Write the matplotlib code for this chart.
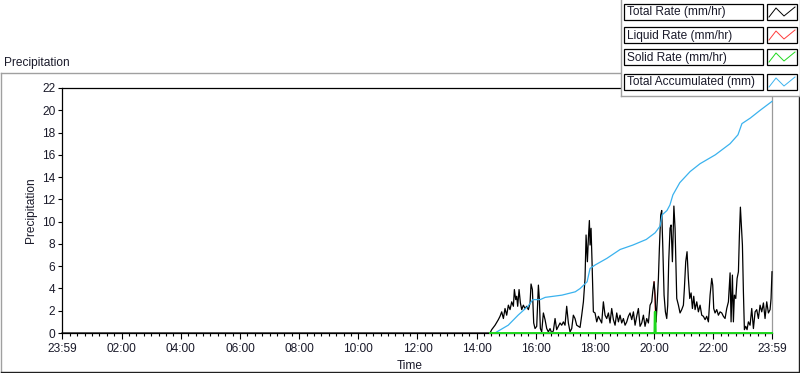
import matplotlib
matplotlib.use("Agg")
import matplotlib.pyplot as plt
from matplotlib.lines import Line2D
from matplotlib.patches import Rectangle

plt.rcParams['font.family'] = ['Liberation Sans', 'DejaVu Sans']

# ---------------- data ----------------
title_text = "Precipitation"
x_label = "Time"
y_label = "Precipitation"
series_names = ["Total Rate (mm/hr)", "Liquid Rate (mm/hr)",
                "Solid Rate (mm/hr)", "Total Accumulated (mm)"]
series_colors = ["#000000", "#ff3c3c", "#1ed81e", "#3ab2ee"]
x_tick_labels = ["23:59", "02:00", "04:00", "06:00", "08:00", "10:00", "12:00",
                 "14:00", "16:00", "18:00", "20:00", "22:00", "23:59"]
y_ticks = [0, 2, 4, 6, 8, 10, 12, 14, 16, 18, 20, 22]

# minutes since 00:00 (23:59 of the previous day = -1)
rate_minutes = [
    -1, 864, 867.1, 870.5, 877.3, 884.0, 887.4, 890.8, 894.2, 897.5, 900.9, 904.3,
    907.7, 911.1, 914.5, 916.5, 919.2, 921.2, 923.2, 926.0, 928.7, 931.4, 934.7,
    938.1, 941.5, 944.9, 948.3, 950.3, 953.0, 955.7, 958.4, 961.8, 965.2, 967.2,
    969.2, 971.9, 975.3, 978.7, 982.1, 985.4, 988.8, 992.2, 995.6, 999.0, 1002.3,
    1005.7, 1009.1, 1012.5, 1015.9, 1019.2, 1022.6, 1026.0, 1029.4, 1032.8, 1036.1,
    1039.5, 1042.9, 1046.3, 1049.7, 1053.1, 1056.5, 1059.8, 1061.9, 1064.6, 1066.6,
    1068.6, 1070.0, 1072.0, 1074.0, 1076.7, 1080.1, 1083.5, 1086.9, 1090.3, 1093.6,
    1097.0, 1100.4, 1103.8, 1107.2, 1110.5, 1113.9, 1117.3, 1120.7, 1124.1, 1127.5,
    1130.8, 1134.2, 1137.6, 1141.0, 1144.4, 1147.7, 1151.1, 1154.5, 1157.9, 1161.3,
    1164.6, 1168.0, 1171.4, 1174.8, 1178.2, 1181.5, 1184.9, 1188.3, 1191.7, 1195.1,
    1197.1, 1199.8, 1201.8, 1203.9, 1206.6, 1208.6, 1210.6, 1213.3, 1215.3, 1217.4,
    1220.1, 1222.8, 1225.5, 1227.5, 1229.5, 1232.2, 1234.3, 1237.0, 1240.0, 1242.4,
    1245.8, 1249.2, 1252.5, 1255.9, 1259.3, 1261.3, 1264.0, 1266.7, 1269.4, 1272.2,
    1274.9, 1277.6, 1280.3, 1283.0, 1286.4, 1289.7, 1293.1, 1296.5, 1299.9, 1303.3,
    1306.6, 1310.0, 1313.4, 1316.8, 1318.8, 1320.8, 1323.5, 1326.9, 1330.3, 1333.7,
    1337.1, 1340.4, 1343.8, 1347.2, 1350.6, 1354.0, 1356.0, 1358.7, 1360.7, 1362.7,
    1365.5, 1368.2, 1370.9, 1372.9, 1374.9, 1376.9, 1379.0, 1381.0, 1383.0, 1385.7,
    1388.4, 1391.1, 1394.5, 1397.9, 1401.3, 1404.7, 1408.0, 1411.4, 1414.8, 1418.2,
    1421.6, 1424.9, 1428.3, 1431.7, 1435.1, 1437.1, 1439.0]
total_rate = [
    0, 0, 0.0, 0.3, 0.7, 1.2, 1.5, 1.9, 1.3, 2.2, 1.6, 2.5,
    2.1, 2.8, 2.4, 3.9, 3.0, 3.3, 2.4, 3.9, 2.7, 2.1, 2.5,
    2.2, 2.4, 2.1, 2.7, 4.4, 3.9, 0.9, 0.4, 0.6, 4.3, 3.0,
    0.4, 0.1, 1.8, 1.2, 0.4, 0.1, 0.4, 0.0, 0.2, 1.3, 0.3,
    0.6, 0.9, 0.7, 1.0, 0.7, 2.4, 0.9, 0.1, 0.4, 1.6,
    1.3, 0.7, 0.6, 0.5, 1.6, 2.8, 4.9, 8.8, 6.4, 8.5,
    10.1, 7.9, 9.4, 6.4, 1.9, 1.8, 1.0, 1.5, 1.2, 0.9,
    2.8, 1.6, 1.3, 1.8, 0.9, 2.2, 1.2, 0.7, 1.8, 1.0,
    1.6, 0.9, 1.3, 0.7, 1.0, 1.5, 1.8, 1.2, 1.9, 0.7,
    1.5, 2.2, 0.6, 0.9, 1.6, 0.6, 1.3, 0.9, 2.5, 2.8,
    3.7, 4.6, 3.4, 1.0, 3.1, 4.9, 7.6, 10.6, 11.0, 7.9,
    3.4, 1.9, 1.3, 2.5, 6.4, 9.4, 9.7, 6.4, 11.4, 9.4,
    3.1, 2.5, 1.8, 2.1, 2.5, 4.0, 6.4, 7.3, 4.9, 3.1,
    3.6, 2.2, 3.3, 2.1, 2.8, 1.9, 2.5, 1.6, 1.5, 1.2,
    1.5, 1.0, 3.4, 4.9, 4.3, 2.2, 1.8, 2.1, 1.6, 1.9,
    1.8, 1.5, 1.3, 2.2, 2.8, 5.4, 1.0, 5.2, 1.0, 3.4,
    3.1, 4.9, 5.5, 8.8, 11.3, 9.7, 7.9, 3.7, 0.3, 0.6,
    0.3, 1.0, 0.7, 2.2, 0.4, 1.9, 2.1, 1.3, 2.5, 1.9,
    2.7, 1.3, 2.8, 1.8, 2.1, 3.1, 5.5]
# liquid rate differs from the total rate only where solid precipitation fell
liquid_minutes = [1199.8, 1201.8, 1202.4, 1203.9]
liquid_rate = [4.6, 3.1, 1.9, 1.0]

solid_minutes = [867, 1200.6, 1201.2, 1202.6, 1203.2, 1439]
solid_rate = [0, 0, 1.9, 1.9, 0, 0]

acc_minutes = [877, 904, 924, 944, 954, 969, 979, 1013, 1040, 1050, 1064, 1070,
               1080, 1104, 1131, 1157, 1184, 1202, 1212, 1216, 1226, 1232, 1238,
               1252, 1273, 1293, 1324, 1354, 1370, 1378, 1395, 1415, 1439]
acc_total = [0.0, 0.7, 1.6, 2.4, 3.0, 3.0, 3.2, 3.4, 3.7, 4.0, 4.6, 5.8,
             6.1, 6.7, 7.5, 7.9, 8.4, 9.0, 9.6, 10.6, 11.0, 11.5, 12.4,
             13.5, 14.5, 15.2, 16.0, 17.0, 17.8, 18.8, 19.3, 20.0, 20.8]

# ---------------- figure ----------------
W, H = 800, 373
fig = plt.figure(figsize=(W / 100, H / 100), dpi=100, facecolor="white")


def fx(px):
    return px / W


def fy(py):
    return 1 - py / H


ax_l, ax_r, ax_t, ax_b = 62, 772, 88, 333
ax = fig.add_axes([fx(ax_l), fy(ax_b), fx(ax_r - ax_l), (ax_b - ax_t) / H])
ax.set_facecolor("white")

lw = 0.9
ax.plot(liquid_minutes, liquid_rate, color=series_colors[1], lw=lw, clip_on=False, zorder=2)
ax.plot(rate_minutes, total_rate, color=series_colors[0], lw=lw, clip_on=False, zorder=3)
ax.plot(acc_minutes, acc_total, color=series_colors[3], lw=lw, clip_on=False, zorder=4)
ax.plot(solid_minutes, solid_rate, color=series_colors[2], lw=1.4, clip_on=False, zorder=5)


def to_min(lbl, i):
    h, m = map(int, lbl.split(":"))
    v = h * 60 + m
    if i == 0 and v > 12 * 60:
        v -= 24 * 60
    return v


x_ticks = [to_min(l, i) for i, l in enumerate(x_tick_labels)]
ax.set_xlim(x_ticks[0], x_ticks[-1])
ax.set_ylim(y_ticks[0], y_ticks[-1])
ax.set_xticks(x_ticks)
ax.set_xticklabels(x_tick_labels)
minor = [m for m in range(15, x_ticks[-1], 15) if m % 120 != 0]
ax.set_xticks(minor, minor=True)
ax.set_yticks(y_ticks)
ax.set_yticklabels([str(v) for v in y_ticks])

tick_col = "#1a1a2a"
ax.tick_params(axis="x", which="major", direction="out", length=4.0, width=0.8,
               pad=3.5, labelsize=8.6, labelcolor=tick_col)
ax.tick_params(axis="x", which="minor", direction="out", length=2.2, width=0.8)
ax.tick_params(axis="y", which="major", direction="out", length=3.2, width=0.8,
               pad=1.5, labelsize=8.6, labelcolor=tick_col)

for s in ["left", "top", "bottom"]:
    ax.spines[s].set_color("black")
    ax.spines[s].set_linewidth(0.9)
ax.spines["right"].set_color("#9a9a9a")
ax.spines["right"].set_linewidth(0.9)

# labels
fig.text(fx(4), fy(63), title_text, ha="left", va="center", fontsize=8.6, color=tick_col)
fig.text(fx(31), fy(210), y_label, ha="center", va="center", rotation=90,
         fontsize=8.6, color=tick_col)
fig.text(fx(410), fy(366), x_label, ha="center", va="center", fontsize=8.6, color=tick_col)

# outer frame
gray = "#a0a0a0"
dark = "#202020"
fig.add_artist(Line2D([fx(1), fx(1)], [fy(73), fy(371.5)], color=gray, lw=1.0))
fig.add_artist(Line2D([fx(1), fx(621)], [fy(73), fy(73)], color=gray, lw=1.0))
fig.add_artist(Line2D([fx(1), fx(798.5)], [fy(371.5), fy(371.5)], color=dark, lw=1.0))
fig.add_artist(Line2D([fx(798.5), fx(798.5)], [fy(95), fy(371.5)], color=dark, lw=1.0))

# legend panel (pixel coordinates)
lx0, lx1, ly1 = 621, 799.5, 95.5
lax = fig.add_axes([fx(lx0), fy(ly1), fx(lx1 - lx0), ly1 / H], zorder=10)
lax.set_xlim(lx0, lx1)
lax.set_ylim(ly1, 0)
lax.set_facecolor("white")
lax.set_xticks([])
lax.set_yticks([])
for s in ["left", "bottom", "right"]:
    lax.spines[s].set_color(gray)
    lax.spines[s].set_linewidth(1.0)
lax.spines["top"].set_visible(False)

row_tops = [4, 27, 49, 74]
box_h = 16
for name, col, top in zip(series_names, series_colors, row_tops):
    lax.add_patch(Rectangle((624, top), 139, box_h, facecolor="white",
                            edgecolor="black", lw=0.9))
    lax.text(627, top + box_h / 2 + 0.5, name, ha="left", va="center",
             fontsize=8.6, color=tick_col)
    lax.add_patch(Rectangle((767, top), 30, box_h, facecolor="white",
                            edgecolor="black", lw=0.9))
    sx = [769, 776, 784, 795]
    sy = [top + 13, top + 4, top + 12, top + 3]
    lax.plot(sx, sy, color=col, lw=0.7)

fig.savefig("out.png", dpi=100, facecolor="white")
